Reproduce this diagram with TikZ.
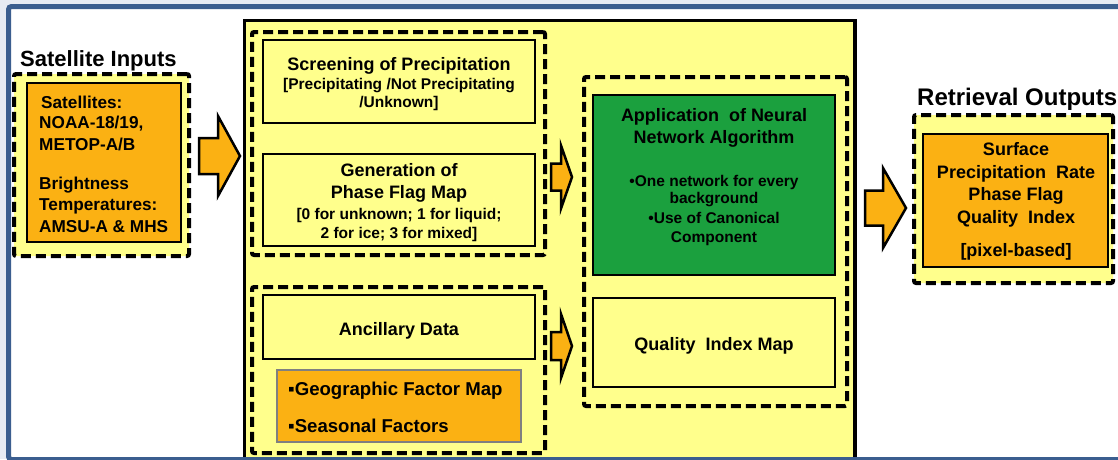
\documentclass[tikz,border=0pt]{standalone}
\usepackage{fontspec}
\setmainfont{Liberation Sans}
\definecolor{lyel}{HTML}{FFFF8C}
\definecolor{orng}{HTML}{FBB113}
\definecolor{grn}{HTML}{1BA03E}
\definecolor{frameblue}{HTML}{3B5E8F}
\definecolor{outbg}{HTML}{E7EBF3}
\newcommand{\fatarrow}[6]{%
  \filldraw[blockarrow] (#1,{#4-#5}) -- (#2,{#4-#5}) -- (#2,{#4-#6}) -- (#3,#4)
    -- (#2,{#4+#6}) -- (#2,{#4+#5}) -- (#1,{#4+#5}) -- cycle;}
\begin{document}
\begin{tikzpicture}[x=1pt,y=-1pt,
  dashgrp/.style={draw=black, line width=4pt, dash pattern=on 10pt off 5pt, fill=lyel, rounded corners=2pt, inner sep=0pt},
  solidbox/.style={draw=black, line width=2pt, fill=lyel, inner sep=0pt},
  orangebox/.style={draw=black, line width=1.5pt, fill=orng, inner sep=0pt},
  greybox/.style={draw=black!50, line width=1.5pt, fill=orng, inner sep=0pt},
  greenbox/.style={draw=black, line width=2pt, fill=grn, inner sep=0pt},
  blockarrow/.style={draw=black, line width=2.5pt, fill=orng, line join=miter},
  ttl/.style={font=\fontsize{22}{26}\selectfont\bfseries, inner sep=0pt},
  big/.style={font=\fontsize{18}{21}\selectfont\bfseries, inner sep=0pt, anchor=base},
  small/.style={font=\fontsize{15.5}{18}\selectfont\bfseries, inner sep=0pt, anchor=base},
  sat/.style={font=\fontsize{17.2}{20}\selectfont\bfseries, inner sep=0pt, anchor=base west},
]
\useasboundingbox (0,0) rectangle (1118,459);
\clip (0,0) rectangle (1118,459);
\fill[outbg] (0,0) rectangle (1118,459);
\fill[white, rounded corners=3pt] (8.5,6.5) rectangle (1130,470);

% Satellite inputs
\node[dashgrp, minimum width=175pt, minimum height=182pt] (satgrp) at (101.5,165) {};
\node[orangebox, minimum width=154pt, minimum height=159pt] (satbox) at (104,162.5) {};
\node[ttl, anchor=base west] (sattitle) at (20,66) {Satellite Inputs};
\node[sat] (s1) at (41,108) {Satellites:};
\node[sat] (s2) at (39,128) {NOAA-18/19,};
\node[sat] (s3) at (39,150) {METOP-A/B};
\node[sat] (s4) at (39,189) {Brightness};
\node[sat] (s5) at (39,210) {Temperatures:};
\node[sat] (s6) at (39,232) {AMSU-A \& MHS};

% arrow into processing box
\coordinate (a1s) at (199,156);
\coordinate (a1t) at (240,156);
\fatarrow{199}{218}{240}{156}{18}{40}

% big processing box
\node[draw=black, line width=3.5pt, fill=lyel, inner sep=0pt, minimum width=610.5pt, minimum height=470pt] (bigbox) at (549.75,255.5) {};

% group 1
\node[dashgrp, minimum width=293pt, minimum height=223pt] (grp1) at (398.5,143.5) {};
\node[solidbox, minimum width=272pt, minimum height=83pt] (screen) at (399,81.5) {};
\node[big] (sc1) at (399,70) {Screening of Precipitation};
\node[small] (sc2) at (399,89) {[Precipitating /Not Precipitating};
\node[small] (sc3) at (399,107) {/Unknown]};
\node[solidbox, minimum width=272pt, minimum height=92pt] (phase) at (399,200) {};
\node[big] (ph1) at (399,176) {Generation of};
\node[big] (ph2) at (399,198) {Phase Flag Map};
\node[small] (ph3) at (399,219) {[0 for unknown; 1 for liquid;};
\node[small] (ph4) at (399,238) {2 for ice; 3 for mixed]};

% group 2
\node[dashgrp, minimum width=293pt, minimum height=166pt] (grp2) at (398.5,370) {};
\node[solidbox, minimum width=272pt, minimum height=64pt] (ancil) at (399,327) {};
\node[big] (an1) at (399,335) {Ancillary Data};
\node[greybox, minimum width=244pt, minimum height=72pt] (geo) at (399,406) {};
\node[big, font=\fontsize{18.6}{21}\selectfont\bfseries, anchor=base west] (ge1) at (288,395) {▪Geographic Factor Map};
\node[big, font=\fontsize{18.6}{21}\selectfont\bfseries, anchor=base west] (ge2) at (288,432) {▪Seasonal Factors};

% small arrows
\coordinate (a2s) at (551,177);
\coordinate (a2t) at (572,177);
\fatarrow{551}{561}{572}{177}{13.5}{31.5}
\coordinate (a3s) at (551,346);
\coordinate (a3t) at (572,346);
\fatarrow{551}{561}{572}{346}{14}{32}

% group 3
\node[dashgrp, minimum width=263pt, minimum height=329pt] (grp3) at (715.5,241.5) {};
\node[greenbox, minimum width=242pt, minimum height=180pt] (nn) at (714,185) {};
\node[big] (nn1) at (714,121.5) {Application\ \ of Neural};
\node[big] (nn2) at (714,143) {Network Algorithm};
\node[small] (nn3) at (714,186) {•One network for every};
\node[small] (nn4) at (714,203) {background};
\node[small] (nn5) at (714,223) {•Use of Canonical};
\node[small] (nn6) at (714,242) {Component};
\node[solidbox, minimum width=242pt, minimum height=89pt] (qi) at (714,342.5) {};
\node[big] (qi1) at (714,350) {Quality\ \ Index Map};

% arrow out
\coordinate (a4s) at (865,208);
\coordinate (a4t) at (906,208);
\fatarrow{865}{883}{906}{208}{17.5}{40}

% retrieval outputs
\node[dashgrp, minimum width=199pt, minimum height=168pt] (outgrp) at (1013.5,199) {};
\node[orangebox, minimum width=185pt, minimum height=133pt] (outbox) at (1015.5,200.5) {};
\node[ttl, font=\fontsize{24}{28}\selectfont\bfseries, anchor=base west] (outtitle) at (917,105) {Retrieval Outputs};
\node[big] (o1) at (1016,155) {Surface};
\node[big] (o2) at (1016,178) {Precipitation\ \ Rate};
\node[big] (o3) at (1016,200) {Phase Flag};
\node[big] (o4) at (1016,223) {Quality\ \ Index};
\node[big] (o5) at (1016,256) {[pixel-based]};

% frame
\draw[frameblue, line width=5pt, rounded corners=3pt] (8.5,6.5) rectangle (1130,459.5);
\end{tikzpicture}
\end{document}
